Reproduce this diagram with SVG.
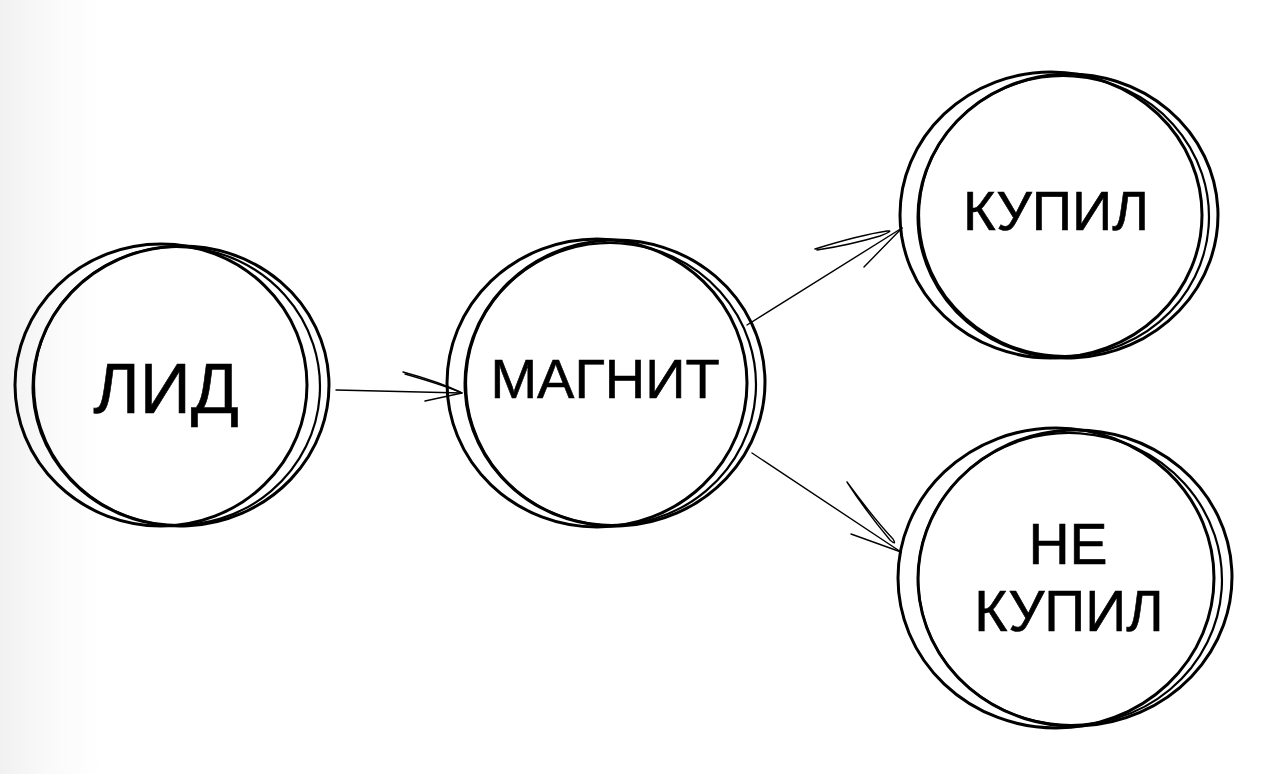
<svg xmlns="http://www.w3.org/2000/svg" width="1280" height="774" viewBox="0 0 1280 774">
<defs>
<linearGradient id="bg" x1="0" y1="0" x2="1" y2="0">
<stop offset="0" stop-color="#f1f1f1"/>
<stop offset="0.04" stop-color="#fafafa"/>
<stop offset="0.08" stop-color="#ffffff"/>
</linearGradient>
</defs>
<style>
.ring{fill:none;stroke:#000;stroke-width:3}
.ring2{fill:none;stroke:#000;stroke-width:2.2}
.lbl{font-family:"Liberation Sans",Arial,sans-serif;fill:#000;stroke:#000;stroke-width:0.6;text-anchor:middle}
.ln{fill:none;stroke:#000;stroke-width:1.4;stroke-linecap:round;stroke-linejoin:round}
</style>
<rect width="1280" height="774" fill="url(#bg)"/>
<g id="lid">
<ellipse class="ring" cx="161" cy="385" rx="146" ry="141"/>
<ellipse class="ring" cx="181" cy="386" rx="148" ry="140" transform="rotate(-3 181 386)"/>
<ellipse class="ring2" cx="177" cy="386" rx="143" ry="139" transform="rotate(4 177 386)"/>
<text class="lbl" x="166" y="413" font-size="71">ЛИД</text>
</g>
<g id="magnit">
<ellipse class="ring" cx="597" cy="383" rx="150" ry="144"/>
<ellipse class="ring" cx="615" cy="383" rx="150" ry="143" transform="rotate(-3 615 383)"/>
<ellipse class="ring2" cx="611" cy="384" rx="145" ry="141" transform="rotate(4 611 384)"/>
<text class="lbl" x="605" y="398" font-size="56">МАГНИТ</text>
</g>
<g id="kupil">
<ellipse class="ring" cx="1051" cy="215" rx="151" ry="143"/>
<ellipse class="ring" cx="1068" cy="216" rx="150" ry="142" transform="rotate(-3 1068 216)"/>
<ellipse class="ring2" cx="1064" cy="216" rx="145" ry="140" transform="rotate(4 1064 216)"/>
<text class="lbl" x="1056" y="230" font-size="56">КУПИЛ</text>
</g>
<g id="ne-kupil">
<ellipse class="ring" cx="1056" cy="578" rx="158" ry="150"/>
<ellipse class="ring" cx="1075" cy="578" rx="157" ry="148" transform="rotate(-3 1075 578)"/>
<ellipse class="ring2" cx="1070" cy="579" rx="152" ry="146" transform="rotate(4 1070 579)"/>
<text class="lbl" x="1068" y="564" font-size="57">НЕ</text>
<text class="lbl" x="1069" y="631" font-size="57">КУПИЛ</text>
</g>
<g id="connectors">
<path class="ln" d="M336 390 L462 393"/>
<path class="ln" d="M403 372 Q440 382 462 393 L425 401"/>
<path class="ln" d="M405 374 Q440 384 460 392"/>
<path class="ln" d="M747 325 L902 228"/>
<path class="ln" d="M815 249 Q860 235 887 231 Q895 230 880 236 Q850 245 817 250"/>
<path class="ln" d="M902 228 L864 267"/>
<path class="ln" d="M752 453 L901 552"/>
<path class="ln" d="M847 482 Q875 520 893 539 Q897 546 890 540 Q865 510 847 482"/>
<path class="ln" d="M851 534 L901 552"/>
</g>
</svg>
